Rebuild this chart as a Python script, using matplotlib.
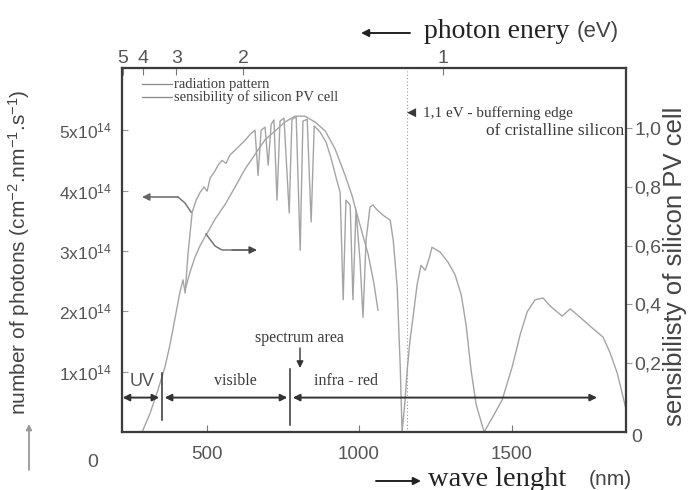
import matplotlib
matplotlib.use("Agg")
import matplotlib.pyplot as plt

# radiation pattern (number of photons, x1e14)
rad_nm = [289, 315, 341, 364, 380, 397, 413, 423, 430, 439, 453, 466, 479, 492, 502, 512,
          525, 538, 551, 564, 577, 594, 610, 626, 643, 659, 669, 679, 692, 702, 712, 721,
          731, 741, 754, 771, 780, 794, 807, 816, 830, 843, 853, 872, 892, 908, 925, 938,
          948, 957, 971, 980, 990, 1003, 1013, 1023, 1036, 1046, 1059, 1079, 1102, 1112,
          1125, 1135, 1141, 1151, 1157, 1167, 1177, 1190, 1203, 1217, 1230, 1239, 1266,
          1292, 1315, 1335, 1351, 1367, 1384, 1410, 1436, 1469, 1502, 1528, 1551, 1577,
          1603, 1626, 1649, 1666, 1692, 1725, 1758, 1800, 1823, 1846, 1862, 1874]
rad_val = [0.0, 0.31, 0.70, 1.08, 1.44, 1.89, 2.32, 2.52, 2.30, 2.93, 3.64, 3.84, 3.97, 4.06,
           3.99, 4.21, 4.30, 4.42, 4.50, 4.45, 4.59, 4.67, 4.75, 4.83, 4.93, 5.00, 4.25, 5.00,
           5.05, 4.42, 5.10, 5.17, 3.84, 5.15, 5.20, 3.63, 5.18, 5.22, 3.01, 5.15, 5.18, 3.48,
           5.07, 4.97, 4.80, 4.54, 4.21, 3.97, 2.19, 3.84, 3.76, 2.19, 3.68, 2.85, 1.90, 3.18,
           3.73, 3.76, 3.68, 3.59, 3.51, 3.18, 2.40, 1.08, 0.0, 0.53, 0.98, 1.52, 1.90, 2.43,
           2.76, 2.68, 2.88, 3.06, 2.98, 2.81, 2.60, 2.27, 1.77, 1.03, 0.45, 0.0, 0.23, 0.53,
           1.08, 1.61, 1.99, 2.19, 2.22, 2.09, 1.99, 1.92, 2.04, 1.90, 1.75, 1.57, 1.31, 0.98,
           0.65, 0.40]

# sensibility of silicon PV cell (right axis)
sens_nm = [430, 446, 462, 479, 495, 512, 528, 561, 594, 626, 659, 692, 725, 757, 790, 823,
           856, 889, 921, 954, 977, 1003, 1030, 1049, 1062]
sens_val = [0.45, 0.51, 0.56, 0.60, 0.63, 0.66, 0.69, 0.74, 0.80, 0.86, 0.91, 0.96, 0.99,
            1.02, 1.04, 1.04, 1.02, 0.99, 0.93, 0.84, 0.77, 0.67, 0.57, 0.47, 0.38]

left_ticks = [1, 2, 3, 4, 5]
right_ticks = [0.2, 0.4, 0.6, 0.8, 1.0]
right_labels = ["0,2", "0,4", "0,6", "0,8", "1,0"]
x_ticks = [500, 1000, 1500]
energy_ticks = [5, 4, 3, 2, 1]
gap_ev = 1.1
region_edges = [354, 774, 1780]   # UV | visible | infra-red (nm)

SERIF = "Liberation Serif"
SANS = "Liberation Sans"
TXT = "#3a3a3a"
TICK = "#555555"
CURVE = "#a4a4a4"
plt.rcParams["font.family"] = SANS
plt.rcParams["mathtext.fontset"] = "custom"
plt.rcParams["mathtext.rm"] = SANS
plt.rcParams["mathtext.it"] = SANS

W, H = 692, 490
fig = plt.figure(figsize=(W / 100, H / 100), dpi=100)


def fx(px):
    return px / W


def fy(py):
    return 1 - py / H


ax = fig.add_axes([fx(122), fy(432), (626 - 122) / W, (432 - 68) / H])
ax.set_xlim(223, 1875)
ax.set_ylim(0, 6.03)
ax.plot(rad_nm, rad_val, color=CURVE, lw=1.0)

ax2 = ax.twinx()
ax2.set_ylim(-0.034, 1.204)
ax2.plot(sens_nm, sens_val, color=CURVE, lw=1.0)

# photon energy scale on top
ax3 = ax.twiny()
ax3.set_xlim(245, 1807)
ax3.set_xticks([1240 / e for e in energy_ticks])
ax3.set_xticklabels([str(e) for e in energy_ticks])
ax3.axvline(1240 / gap_ev, color="#999999", lw=0.8, ls=(0, (1, 2)))

for a in (ax, ax2, ax3):
    for s in a.spines.values():
        s.set_color("#3c3c3c")
        s.set_linewidth(1.5)

ax.set_xticks(x_ticks)
ax.set_xticklabels([str(t) for t in x_ticks])
ax.set_yticks(left_ticks)
ax.set_yticklabels([f"{t}x10$^{{14}}$" for t in left_ticks])
ax.tick_params(axis="x", direction="in", length=5, color="#777777", labelsize=13.5,
               labelcolor=TICK, pad=10)
ax.tick_params(axis="y", direction="in", length=4, color="#999999", labelsize=12.5,
               labelcolor=TICK, pad=7)
ax2.set_yticks(right_ticks)
ax2.set_yticklabels(right_labels)
ax2.tick_params(axis="y", direction="out", length=4, color="#999999", labelsize=14,
                labelcolor=TICK, pad=2)
ax3.tick_params(axis="x", direction="in", length=5, color="#777777", labelsize=14,
                labelcolor=TICK, pad=1)

# legend
for py, label in [(84, "radiation pattern"), (97, "sensibility of silicon PV cell")]:
    fig.add_artist(plt.Line2D([fx(142), fx(172)], [fy(py), fy(py)], color="#888888", lw=0.9))
    fig.text(fx(174), fy(py), label, family=SERIF, fontsize=10.5, color=TXT, va="center")

fig.text(fx(404), fy(113), "\u25c4 1,1 eV - bufferning edge", family=SERIF, fontsize=11,
         color=TXT, va="center")
fig.text(fx(624), fy(131), "of cristalline silicon", family=SERIF, fontsize=12.5,
         color=TXT, va="center", ha="right")

# arrows linking each curve to its axis
ax.annotate("", xy=(fx(142), fy(197)), xycoords="figure fraction",
            xytext=(fx(178), fy(197)), textcoords="figure fraction",
            arrowprops=dict(arrowstyle="-|>", color="#666666", lw=1.1, mutation_scale=11,
                            shrinkA=0, shrinkB=0))
fig.add_artist(plt.Line2D([fx(178), fx(185), fx(191)], [fy(197), fy(203), fy(212)],
                          color="#777777", lw=1.1))
ax.annotate("", xy=(fx(257), fy(250)), xycoords="figure fraction",
            xytext=(fx(232), fy(250)), textcoords="figure fraction",
            arrowprops=dict(arrowstyle="-|>", color="#444444", lw=1.1, mutation_scale=11,
                            shrinkA=0, shrinkB=0))
fig.add_artist(plt.Line2D([fx(206), fx(215), fx(222), fx(232)],
                          [fy(234), fy(246), fy(250), fy(250)], color="#777777", lw=1.1))

# spectrum regions
fig.text(fx(299), fy(338), "spectrum area", family=SERIF, fontsize=11.5, color=TXT,
         ha="center", va="center")
ax.annotate("", xy=(fx(300), fy(368)), xycoords="figure fraction",
            xytext=(fx(300), fy(348)), textcoords="figure fraction",
            arrowprops=dict(arrowstyle="-|>", color="#333333", lw=1.0, mutation_scale=10,
                            shrinkA=0, shrinkB=0))
arrow_y = 0.57
dbl = dict(arrowstyle="<|-|>", color="#333333", lw=1.4, mutation_scale=10, shrinkA=0, shrinkB=0)
ax.annotate("", xy=(225, arrow_y), xytext=(region_edges[0] - 9, arrow_y), arrowprops=dbl)
ax.annotate("", xy=(region_edges[0] + 9, arrow_y), xytext=(region_edges[1] - 9, arrow_y),
            arrowprops=dbl)
ax.annotate("", xy=(region_edges[1] + 9, arrow_y), xytext=(region_edges[2], arrow_y),
            arrowprops=dbl)
ax.plot([region_edges[0], region_edges[0]], [0.2, 0.98], color="#333333", lw=1.1)
ax.plot([region_edges[1], region_edges[1]], [0.12, 1.05], color="#333333", lw=1.1)
ax.text(290, 0.84, "UV", family=SANS, fontsize=13, color=TICK, ha="center", va="center")
ax.text(593, 0.84, "visible", family=SERIF, fontsize=11.5, color=TXT, ha="center",
        va="center")
ax.text(957, 0.84, "infra - red", family=SERIF, fontsize=11.5, color=TXT, ha="center",
        va="center")

# stray zeros at the corners
fig.text(fx(93), fy(462), "0", fontsize=14, color=TICK, ha="center", va="center")
fig.text(fx(637), fy(438), "0", fontsize=14, color=TICK, ha="center", va="center")

# axis titles
fig.text(fx(424), fy(31), "photon enery", family=SERIF, fontsize=20, color="#222222",
         va="center")
fig.text(fx(577), fy(31), "(eV)", family=SANS, fontsize=16, color="#444444", va="center")
ax.annotate("", xy=(fx(361), fy(33)), xycoords="figure fraction",
            xytext=(fx(410), fy(33)), textcoords="figure fraction",
            arrowprops=dict(arrowstyle="-|>", color="#222222", lw=1.4, mutation_scale=11,
                            shrinkA=0, shrinkB=0))

fig.text(fx(428), fy(479), "wave lenght", family=SERIF, fontsize=20.5, color="#222222",
         va="center")
fig.text(fx(589), fy(479), "(nm)", family=SANS, fontsize=15, color="#444444", va="center")
ax.annotate("", xy=(fx(421), fy(481)), xycoords="figure fraction",
            xytext=(fx(376), fy(481)), textcoords="figure fraction",
            arrowprops=dict(arrowstyle="-|>", color="#222222", lw=1.4, mutation_scale=11,
                            shrinkA=0, shrinkB=0))

fig.text(fx(19), fy(252), "number of photons (cm$^{-2}$.nm$^{-1}$.s$^{-1}$)", rotation=90,
         fontsize=15, color="#444444", ha="center", va="center")
ax.annotate("", xy=(fx(29), fy(424)), xycoords="figure fraction",
            xytext=(fx(29), fy(470)), textcoords="figure fraction",
            arrowprops=dict(arrowstyle="-|>", color="#999999", lw=1.3, mutation_scale=8,
                            shrinkA=0, shrinkB=0))
fig.text(fx(675), fy(266), "sensibilisty of silicon PV cell", rotation=90, fontsize=18.5,
         color="#444444", ha="center", va="center")

fig.savefig("out.png", dpi=100)
